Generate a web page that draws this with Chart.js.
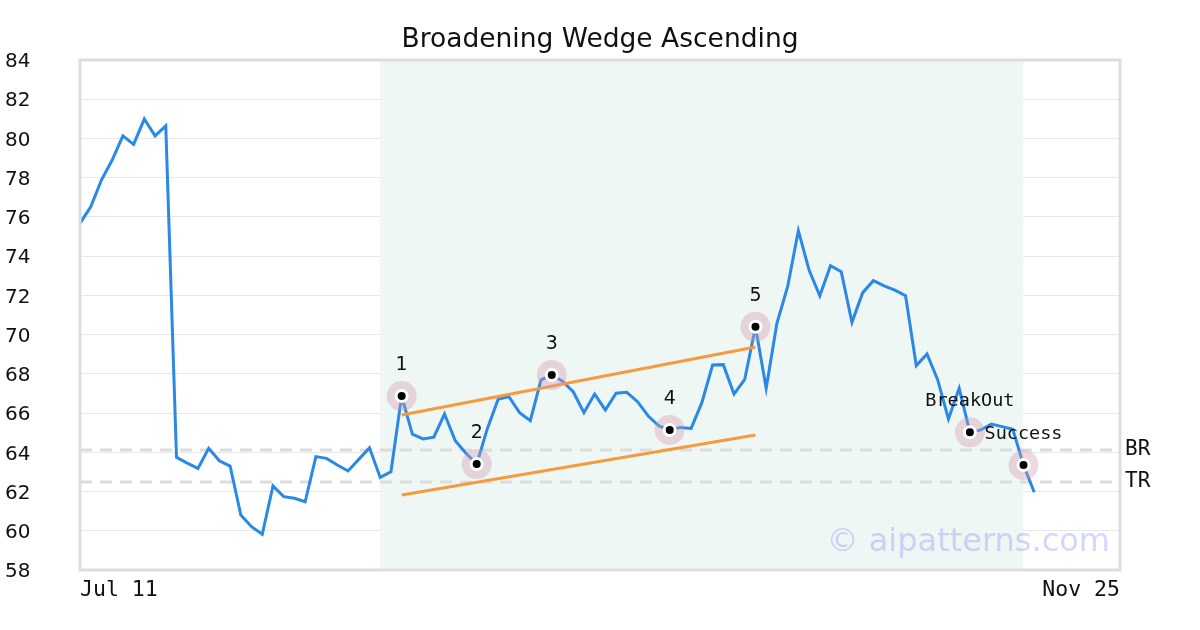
<!DOCTYPE html>
<html>
<head>
<meta charset="utf-8">
<script src="https://cdn.jsdelivr.net/npm/chart.js@4"></script>
<style>
  html, body { margin: 0; padding: 0; background: #fff; }
  #wrap { width: 1200px; height: 630px; }
</style>
</head>
<body>
<div id="wrap"><canvas id="chart" width="1200" height="630"></canvas></div>
<script>
// price series (one point per trading day)
const prices = [
    75.67, 76.52, 77.88, 78.90, 80.13, 79.70, 80.99, 80.13, 80.64, 63.74,
    63.45, 63.18, 64.20, 63.57, 63.30, 60.80, 60.21, 59.82, 62.28, 61.74,
    61.66, 61.48, 63.78, 63.69, 63.35, 63.05, 63.64, 64.23, 62.72, 63.01,
    66.87, 64.93, 64.68, 64.77, 65.95, 64.59, 63.95, 63.40, 65.22, 66.70,
    66.84, 66.02, 65.61, 67.69, 67.94, 67.63, 67.09, 66.02, 66.97, 66.16,
    67.01, 67.06, 66.58, 65.85, 65.34, 65.14, 65.27, 65.22, 66.53, 68.45,
    68.47, 66.97, 67.72, 70.40, 67.26, 70.58, 72.44, 75.30, 73.29, 71.98,
    73.51, 73.21, 70.63, 72.14, 72.75, 72.49, 72.27, 71.98, 68.42, 69.01,
    67.69, 65.70, 67.26, 65.02, 65.14, 65.44, 65.31, 65.17, 63.35, 61.96
];

const xLabels = ['Jul 11', 'Nov 25'];
const xRange = [0, 97];
const yTicks = [58, 60, 62, 64, 66, 68, 70, 72, 74, 76, 78, 80, 82, 84];

// pattern window and trend lines
const patternSpan = [28, 88];
const upperLine = [[30, 65.90], [63, 69.37]];
const lowerLine = [[30, 61.82], [63, 64.88]];

// reference levels
const levelNames = ['BR', 'TR'];
const levelValues = [64.12, 62.49];

// marked points
const markerIdx = [30, 37, 44, 55, 63, 83, 88];
const markerText = ['1', '2', '3', '4', '5', 'BreakOut', 'Success'];

const colors = {
    line: '#2a88e6',
    trend: '#f79a3e',
    band: '#eff7f4',
    level: '#dcdcdc',
    grid: '#e8e8e8',
    frame: '#dddddd',
    halo: 'rgba(210, 155, 175, 0.38)',
    mark: '#000000',
    text: '#111111',
    watermark: 'rgba(120, 130, 250, 0.32)'
};

const mono = '"DejaVu Sans Mono", monospace';
const sans = '"DejaVu Sans", sans-serif';

const pricePoints = prices.map((v, i) => ({ x: i, y: v }));
const markerPoints = markerIdx.map(i => ({ x: i, y: prices[i] }));
const toPts = seg => seg.map(p => ({ x: p[0], y: p[1] }));

const levelSets = levelValues.map(v => ({
    type: 'line',
    data: [{ x: xRange[0], y: v }, { x: xRange[1], y: v }],
    borderColor: colors.level,
    borderWidth: 3,
    borderDash: [12, 8],
    pointRadius: 0,
    order: 5
}));

const decor = {
    id: 'decor',
    beforeDatasetsDraw(chart) {
        const { ctx, chartArea: a, scales: { x } } = chart;
        const x0 = x.getPixelForValue(patternSpan[0]);
        const x1 = x.getPixelForValue(patternSpan[1]);
        ctx.save();
        ctx.fillStyle = colors.band;
        ctx.fillRect(x0, a.top, x1 - x0, a.bottom - a.top);
        ctx.restore();
    },
    afterDatasetsDraw(chart) {
        const { ctx, chartArea: a, scales: { x, y } } = chart;
        ctx.save();

        // watermark
        ctx.font = '32px ' + sans;
        ctx.fillStyle = colors.watermark;
        ctx.textAlign = 'right';
        ctx.textBaseline = 'middle';
        ctx.fillText('\u00a9 aipatterns.com', a.right - 10, y.getPixelForValue(59.4));

        // frame
        ctx.strokeStyle = colors.frame;
        ctx.lineWidth = 3;
        ctx.strokeRect(a.left, a.top, a.right - a.left, a.bottom - a.top);

        // point labels: digits in sans, words in mono
        ctx.fillStyle = colors.text;
        ctx.textAlign = 'center';
        ctx.textBaseline = 'middle';
        markerIdx.forEach((idx, k) => {
            const t = markerText[k];
            ctx.font = t.length > 1 ? '18.5px ' + mono : '19px ' + sans;
            ctx.fillText(t, x.getPixelForValue(idx), y.getPixelForValue(prices[idx]) - 31);
        });

        // level labels
        ctx.font = '21px ' + mono;
        ctx.textAlign = 'left';
        levelValues.forEach((v, k) => {
            ctx.fillText(levelNames[k], a.right + 5, y.getPixelForValue(v));
        });

        // title
        ctx.font = '26.5px ' + sans;
        ctx.textAlign = 'center';
        ctx.fillText('Broadening Wedge Ascending', (a.left + a.right) / 2, 40);
        ctx.restore();
    }
};

new Chart(document.getElementById('chart'), {
    type: 'line',
    data: {
        datasets: [
            {
                data: markerPoints,
                showLine: false,
                pointRadius: 5.5,
                pointBackgroundColor: colors.mark,
                pointBorderColor: '#ffffff',
                pointBorderWidth: 3,
                order: 0
            },
            {
                data: markerPoints,
                showLine: false,
                pointRadius: 15,
                pointBackgroundColor: colors.halo,
                pointBorderWidth: 0,
                order: 1
            },
            {
                data: toPts(upperLine),
                borderColor: colors.trend,
                borderWidth: 3,
                pointRadius: 0,
                order: 2
            },
            {
                data: toPts(lowerLine),
                borderColor: colors.trend,
                borderWidth: 3,
                pointRadius: 0,
                order: 2
            },
            {
                data: pricePoints,
                borderColor: colors.line,
                borderWidth: 3,
                pointRadius: 0,
                tension: 0,
                order: 3
            },
            ...levelSets
        ]
    },
    options: {
        responsive: false,
        animation: false,
        layout: { padding: { top: 60, right: 80, left: 5, bottom: 0 } },
        plugins: {
            legend: { display: false },
            tooltip: { enabled: false }
        },
        scales: {
            x: {
                type: 'linear',
                min: xRange[0],
                max: xRange[1],
                afterBuildTicks: s => { s.ticks = xRange.map(v => ({ value: v })); },
                afterFit: s => { s.height = 60; },
                ticks: {
                    align: 'inner',
                    color: colors.text,
                    font: { family: mono, size: 21.5 },
                    maxRotation: 0,
                    padding: 0,
                    callback: (v, i) => xLabels[i]
                },
                grid: { display: false },
                border: { display: false }
            },
            y: {
                min: yTicks[0],
                max: yTicks[yTicks.length - 1],
                afterBuildTicks: s => { s.ticks = yTicks.map(v => ({ value: v })); },
                afterFit: s => { s.width = 75; },
                ticks: {
                    crossAlign: 'far',
                    color: colors.text,
                    font: { family: sans, size: 20 },
                    padding: 8,
                    labelOffset: 2
                },
                grid: { color: colors.grid, lineWidth: 1, drawTicks: false },
                border: { display: false }
            }
        }
    },
    plugins: [decor]
});
</script>
</body>
</html>
